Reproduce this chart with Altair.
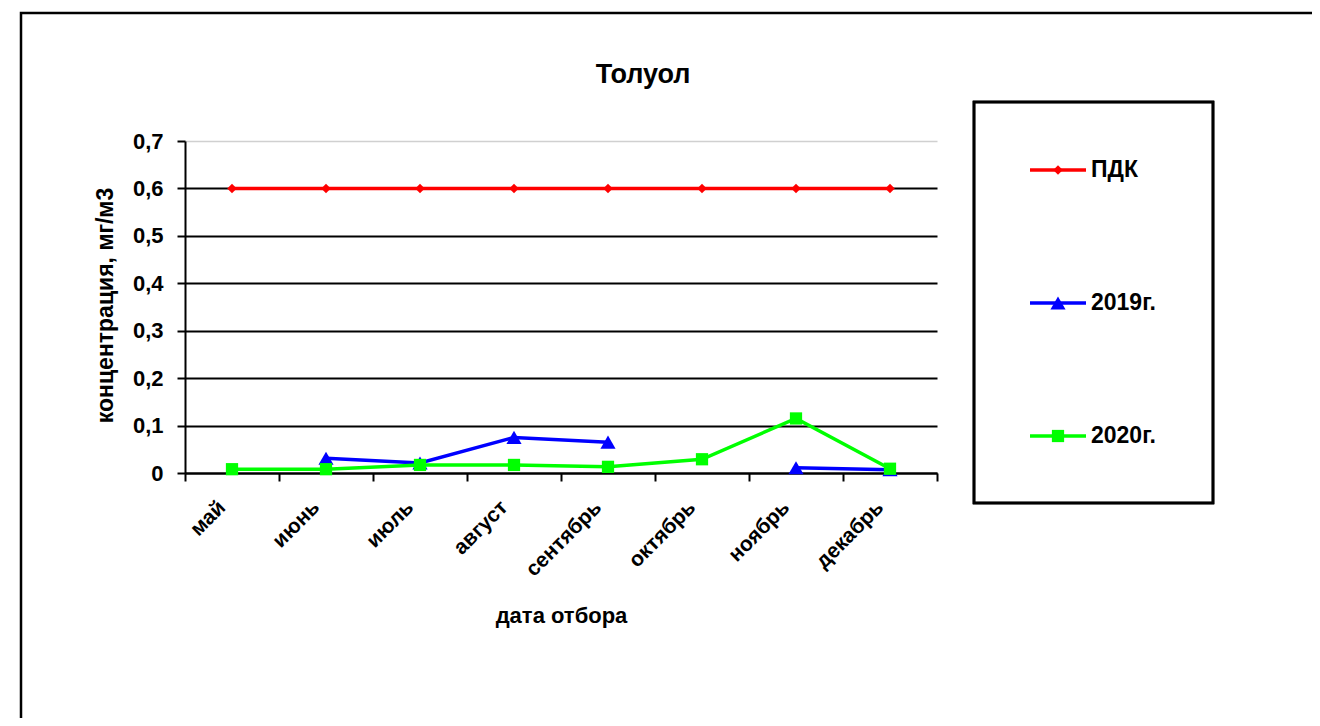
import altair as alt
import pandas as pd

months = ["май", "июнь", "июль", "август", "сентябрь", "октябрь", "ноябрь", "декабрь"]
pdk = [0.6, 0.6, 0.6, 0.6, 0.6, 0.6, 0.6, 0.6]
y2019 = [None, 0.031, 0.021, 0.075, 0.065, None, 0.011, 0.007]
y2020 = [0.008, 0.008, 0.017, 0.017, 0.013, 0.029, 0.115, 0.009]
series = ["ПДК", "2019г.", "2020г."]
colors = ["#ff0000", "#0000ff", "#00ff00"]
shapes = ["diamond", "triangle-up", "square"]
sizes = [90, 230, 150]
y_ticks = [0, 0.1, 0.2, 0.3, 0.4, 0.5, 0.6, 0.7]

rows = []
for name, vals in zip(series, [pdk, y2019, y2020]):
    for m, v in zip(months, vals):
        rows.append({"month": m, "series": name, "value": v})
df = pd.DataFrame(rows)
leg_df = pd.DataFrame({"series": series})

FONT = "Liberation Sans"

color_enc = alt.Color("series:N", scale=alt.Scale(domain=series, range=colors), legend=None)

x_enc = alt.X(
    "month:N",
    sort=months,
    scale=alt.Scale(domain=months, paddingInner=0, paddingOuter=0),
    axis=alt.Axis(
        title="дата отбора",
        titleFont=FONT, titleFontSize=22, titleFontWeight="bold", titleColor="black",
        titleY=142, titleBaseline="middle",
        labelAngle=-45, labelAlign="right", labelBaseline="middle",
        labelPadding=23, labelOffset=-10,
        labelFont=FONT, labelFontSize=21, labelFontWeight="bold",
        labelColor="black",
        tickBand="extent", tickSize=8, tickColor="black", tickWidth=2,
        domainColor="black", domainWidth=2, grid=False,
    ),
)

y_enc = alt.Y(
    "value:Q",
    scale=alt.Scale(domain=[0, 0.7], nice=False, zero=True),
    axis=alt.Axis(
        title="концентрация, мг/м3",
        titleFont=FONT, titleFontSize=23, titleFontWeight="bold", titleColor="black",
        titleX=-80, titleY=164, titleBaseline="middle", titleAngle=-90,
        values=y_ticks,
        labelExpr="datum.value == 0 ? '0' : replace(format(datum.value, '.1f'), '.', ',')",
        labelFont=FONT, labelFontSize=22, labelFontWeight="bold", labelColor="black",
        labelPadding=14,
        tickSize=8, tickColor="black", tickWidth=2,
        domainColor="black", domainWidth=2,
        grid=True,
        gridColor={"condition": {"test": "datum.value >= 0.7", "value": "#d0d0d0"}, "value": "black"},
        gridWidth={"condition": {"test": "datum.value >= 0.7", "value": 1.5}, "value": 2},
    ),
)

lines = alt.Chart(df).mark_line(strokeWidth=3.5).encode(
    x=x_enc, y=y_enc, color=color_enc, detail="series:N"
)

leg_y = alt.Y("series:N", scale=alt.Scale(type="point", domain=series, range=[29, 295], padding=0), axis=None)

point_layers = []
leg_point_layers = []
for name, shp, sz in zip(series, shapes, sizes):
    point_layers.append(
        alt.Chart(df).mark_point(filled=True, opacity=1, shape=shp, size=sz).encode(
            x=alt.X("month:N", sort=months), y=alt.Y("value:Q"), color=color_enc
        ).transform_filter(alt.datum.series == name).transform_filter("isValid(datum.value)")
    )
    leg_point_layers.append(
        alt.Chart(leg_df).mark_point(filled=True, opacity=1, shape=shp, size=sz).encode(
            x=alt.value(873), y=leg_y, color=color_enc
        ).transform_filter(alt.datum.series == name)
    )

# draw order: ПДК, 2019, 2020 (line then markers per series)
main = alt.layer(lines, *point_layers)

leg_rule = alt.Chart(leg_df).mark_rule(strokeWidth=3.5).encode(
    x=alt.value(845), x2=alt.value(901), y=leg_y, color=color_enc
)
leg_txt = alt.Chart(leg_df).mark_text(
    align="left", baseline="middle", font=FONT, fontSize=23, fontWeight="bold", color="black"
).encode(x=alt.value(906), y=leg_y, text="series:N")
leg_box = alt.Chart(leg_df).mark_rect(
    fill=None, stroke="black", strokeWidth=2.5, clip=False
).encode(x=alt.value(789), x2=alt.value(1028), y=alt.value(-39), y2=alt.value(362))
legend = alt.layer(leg_box, leg_rule, *leg_point_layers, leg_txt)

title = alt.Chart(pd.DataFrame({"t": ["Толуол"]})).mark_text(
    align="center", baseline="middle", font=FONT, fontSize=27, fontWeight="bold", color="black"
).encode(x=alt.value(458), y=alt.value(-66), text="t:N")

border = alt.Chart(pd.DataFrame({"t": [0]})).mark_rect(
    fill=None, stroke="black", strokeWidth=2.5
).encode(x=alt.value(-164), x2=alt.value(1160), y=alt.value(-128), y2=alt.value(620))

chart = alt.layer(border, main, legend, title).resolve_scale(y="independent").properties(
    width=752, height=332,
    autosize=alt.AutoSizeParams(type="none"),
    padding={"left": 177, "top": 133, "right": 375, "bottom": 245},
    background="white",
).configure_view(stroke=None)

chart.save("out.html", embed_options={"renderer": "svg", "actions": False})
